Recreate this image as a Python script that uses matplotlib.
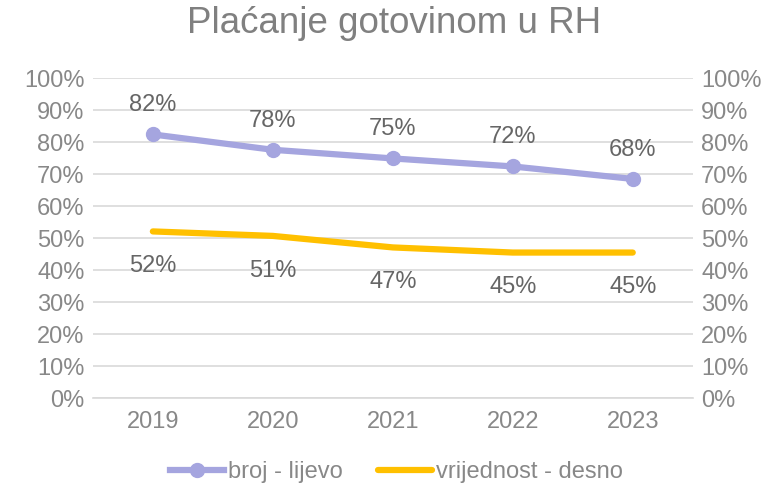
import matplotlib.pyplot as plt
from matplotlib.ticker import PercentFormatter

plt.rcParams['font.family'] = ['Liberation Sans', 'DejaVu Sans']

years = ['2019', '2020', '2021', '2022', '2023']
broj = [82.4, 77.6, 74.9, 72.4, 68.5]
vrijednost = [52.1, 50.7, 47.1, 45.5, 45.5]
broj_labels = ['82%', '78%', '75%', '72%', '68%']
vrij_labels = ['52%', '51%', '47%', '45%', '45%']

lav = '#a5a5df'
gold = '#ffc000'
tick_col = '#888888'
lab_col = '#666666'

fig = plt.figure(figsize=(7.74, 4.88), dpi=100)
ax = fig.add_axes([0.120, 0.184, 0.775, 0.656])
ax2 = ax.twinx()

x = range(len(years))
l1, = ax.plot(x, broj, color=lav, lw=4.5, marker='o', ms=10, label='broj - lijevo', zorder=3)
l2, = ax2.plot(x, vrijednost, color=gold, lw=4.5, label='vrijednost - desno',
               solid_capstyle='round', zorder=3)

for i, (v, t) in enumerate(zip(broj, broj_labels)):
    ax.annotate(t, (i, v), xytext=(0, 21), textcoords='offset points',
                ha='center', va='center', fontsize=17, color=lab_col)
for i, (v, t) in enumerate(zip(vrijednost, vrij_labels)):
    ax2.annotate(t, (i, v), xytext=(0, -25), textcoords='offset points',
                 ha='center', va='center', fontsize=17, color=lab_col)

for a in (ax, ax2):
    a.set_ylim(0, 100)
    a.set_yticks(range(0, 101, 10))
    a.yaxis.set_major_formatter(PercentFormatter(decimals=0))
    a.tick_params(axis='y', length=0, labelsize=17, labelcolor=tick_col, pad=6)
    for s in a.spines.values():
        s.set_visible(False)

ax.set_xlim(-0.5, 4.5)
ax.set_xticks(list(x))
ax.set_xticklabels(years)
ax.tick_params(axis='x', length=0, labelsize=17, labelcolor=tick_col, pad=9)
ax.grid(axis='y', color='#d9d9d9', lw=1.2)
ax.set_axisbelow(True)
ax.spines['bottom'].set_visible(True)
ax.spines['bottom'].set_color('#d9d9d9')
ax.spines['bottom'].set_linewidth(1.2)

fig.text(0.509, 0.952, 'Plaćanje gotovinom u RH', ha='center', va='center',
         fontsize=26.5, color='#808080')

fig.legend(handles=[l1, l2], loc='center', bbox_to_anchor=(0.512, 0.033), ncol=2,
           frameon=False, fontsize=17, labelcolor=tick_col, handlelength=2.3,
           handletextpad=0.15, columnspacing=1.5)

fig.savefig('out.png', dpi=100)
